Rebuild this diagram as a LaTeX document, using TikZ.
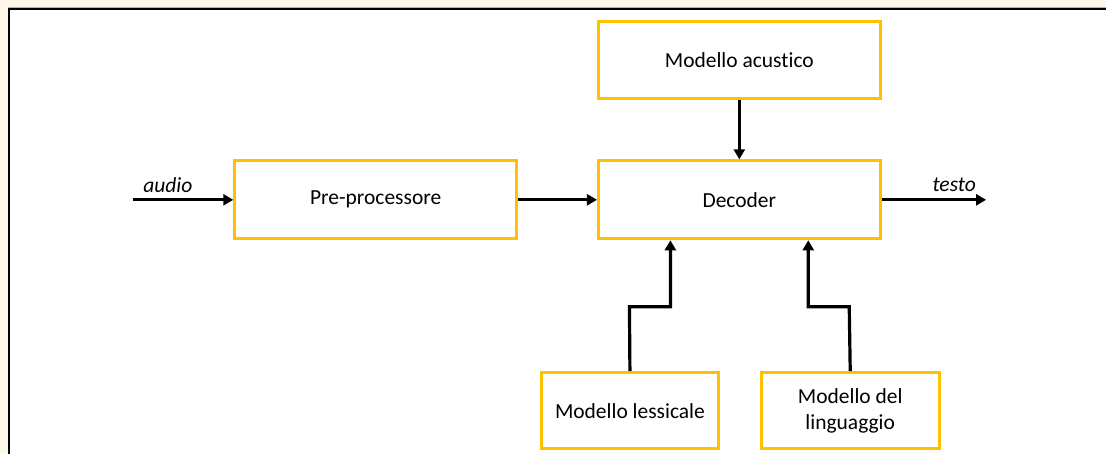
\documentclass[tikz,border=0pt]{standalone}
\usepackage{fontspec}
\setmainfont{Carlito}[Ligatures={NoCommon}]
\usetikzlibrary{arrows.meta}
\definecolor{boxline}{HTML}{FFC000}
\definecolor{paper}{HTML}{FFF8EA}
\tikzset{
  block/.style={draw=boxline, line width=3pt, fill=white, inner sep=0pt,
    align=center, font=\fontsize{21.5}{26.5}\selectfont},
  flow/.style={line width=3.2pt, -{Triangle[length=10pt,width=11pt]}},
  lbl/.style={font=\fontsize{21.5}{26}\selectfont\itshape, inner sep=0pt}
}
\begin{document}
\begin{tikzpicture}[x=1pt,y=-1pt]
  % page background and frame
  \fill[paper] (0,0) rectangle (1107,454);
  \fill[white] (9,9) rectangle (1107,454);
  \draw[gray!60, line width=1pt] (8,8) -- (1107,8);
  \draw[black, line width=2pt] (9,454) -- (9,9.5) -- (1107,9.5);
  \useasboundingbox (0,0) rectangle (1107,454);

  % blocks
  \node[block, minimum width=282pt, minimum height=78pt] (pre) at (376,200) {Pre-processore};
  \node[block, minimum width=282pt, minimum height=78pt] (dec) at (740,200) {Decoder};
  \node[block, minimum width=282pt, minimum height=77pt] (ac) at (740,60.5) {Modello acustico};
  \node[block, minimum width=177pt, minimum height=76pt] (lex) at (630.5,411) {Modello lessicale};
  \node[block, minimum width=178pt, minimum height=76pt] (lang) at (851,411) {Modello del\\linguaggio};

  % free ends of input and output
  \coordinate (in) at (133,200);
  \coordinate (out) at (987,200);

  % connectors
  \draw[flow] (in) -- (pre.west);
  \draw[flow] (pre.east) -- (dec.west);
  \draw[flow] (dec.east) -- (out);
  \draw[flow] (ac.south) -- (dec.north);
  \draw[flow] (lex.north) -- (630,307) -- (671,307) -- (671,240.5);
  \draw[flow] (lang.north) -- (850,307) -- (809,307) -- (809,240.5);

  % labels
  \node[lbl] (audio) at (168,185) {audio};
  \node[lbl] (testo) at (955,185) {testo};
\end{tikzpicture}
\end{document}
